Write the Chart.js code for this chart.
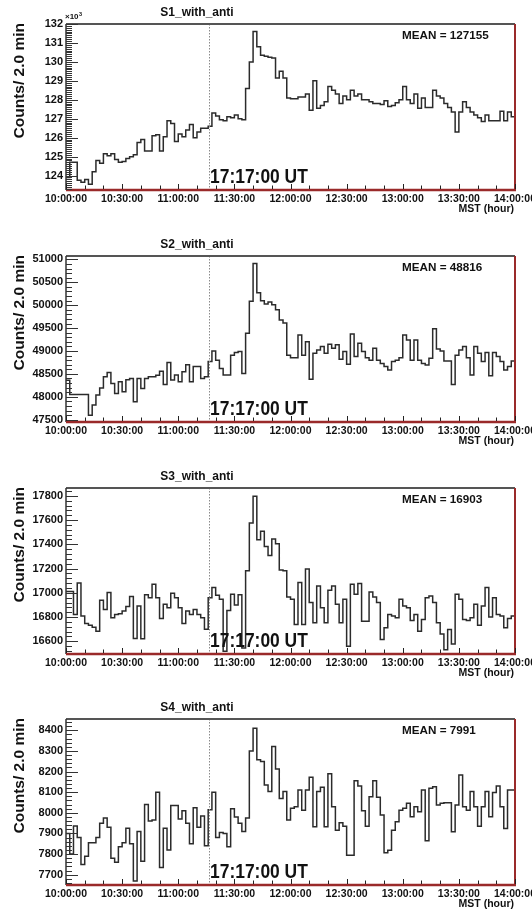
<!DOCTYPE html>
<html>
<head>
<meta charset="utf-8">
<script src="https://cdn.jsdelivr.net/npm/chart.js@4.4.1/dist/chart.umd.min.js"></script>
<style>
html,body{margin:0;padding:0;background:#fff;overflow:hidden;width:532px;height:911px;}
.p{position:absolute;left:0;width:532px;height:231px;}
</style>
</head>
<body>
<div class="p" style="top:0px"><canvas id="c0" width="532" height="231"></canvas></div>
<div class="p" style="top:232px"><canvas id="c1" width="532" height="231"></canvas></div>
<div class="p" style="top:464px"><canvas id="c2" width="532" height="231"></canvas></div>
<div class="p" style="top:695px"><canvas id="c3" width="532" height="231"></canvas></div>
<script>
// ---------- data ----------
const binWidthMin = 2;           // 2-minute bins, minutes after 10:00 MST
const nBins = 120;
const binStarts = [];
for (let i = 0; i < nBins; i++) binStarts.push(i * binWidthMin);

const xTickLabels = ['10:00:00','10:30:00','11:00:00','11:30:00','12:00:00','12:30:00','13:00:00','13:30:00','14:00:00'];
const xAxisTitle = 'MST (hour)';
const yAxisTitle = 'Counts/ 2.0 min';
const eventLabel = '17:17:00 UT';
const eventMinute = 76.5;

const panelTitles = ['S1_with_anti','S2_with_anti','S3_with_anti','S4_with_anti'];
const meanLabels = ['MEAN = 127155','MEAN = 48816','MEAN = 16903','MEAN = 7991'];

const s1Counts = [
123900,124700,124700,123750,123650,123800,123550,124200,124800,124650,
125150,125050,125150,124850,124700,124750,124900,125000,125100,125750,
125900,125300,125300,126100,126150,125300,126050,126900,126750,125800,
126200,126050,126400,126700,126000,126300,126500,126500,126600,127300,
127150,126950,126900,127100,127050,127200,127000,126950,128600,130000,
131600,130800,130350,130300,130250,130200,129150,129500,129150,128100,
128050,128050,128150,128150,128300,127450,129000,127550,127700,127900,
128700,128500,128300,127800,128200,128000,128500,128200,128300,128000,
128000,127900,127800,127800,127750,127950,127650,127700,127850,128000,
128700,128000,127800,128300,127550,128100,127600,127600,128500,128200,
128100,127800,127600,127350,126300,127350,127900,127600,127350,127200,
127050,126850,127200,126900,126900,126900,127400,126900,127350,127100
];
const s2Counts = [
48360,48050,48050,48050,48050,48050,47600,47820,48040,48190,
48440,48530,48290,48070,48330,48110,48370,48400,47890,48400,
48180,48400,48440,48440,48470,48560,48270,48750,48365,48475,
48330,48550,48700,48330,48660,48660,48400,48440,48770,49000,
48800,48620,48475,48475,48910,48970,48990,48510,49390,50085,
50910,50270,50100,50025,50070,50010,49900,49680,49610,48910,
48855,48855,49350,48910,49205,48385,48950,49020,49100,48950,
49150,49060,49135,48820,48990,48710,49370,48880,49170,48990,
48855,48800,49060,48800,48730,48660,48585,48770,48800,48855,
49350,49240,48800,49240,48800,48730,48695,48840,49485,49045,
49000,48780,48780,48270,48910,49020,49100,48855,48475,49100,
48950,48770,48970,48460,48970,48880,48770,48585,48660,48780
];
const s3Counts = [
17010,17010,16820,17080,16808,16747,16733,16716,16683,16938,
16863,17002,16794,16822,16827,16850,16886,16969,16622,16891,
16620,16983,16960,17071,16960,16789,16905,16877,16997,16960,
16877,16747,16850,16822,16863,16822,16794,16700,16960,17043,
16980,16947,16517,16855,16988,16900,16983,16545,17182,17576,
17797,17437,17509,17382,17307,17445,17404,17188,17182,16966,
16947,16739,17085,16739,17196,16919,16753,17057,16877,16753,
17021,17057,16905,16753,16947,16559,17071,16988,17077,16766,
16766,17007,16966,16919,16614,16711,16822,16808,16794,16947,
16891,16877,16772,16822,16683,16780,16960,16974,16919,16753,
16661,16531,16697,16578,16988,16947,16780,16772,16794,16905,
16733,16891,17043,16800,16960,16822,16808,16711,16789,16808
];
const s4Counts = [
7900,7800,7936,7880,7750,7790,7855,7855,7880,7950,
7975,7930,7780,7760,7835,7855,7925,7850,7670,7910,
7765,8040,7960,7965,8100,7735,7925,7820,8035,8035,
7970,8010,7950,7850,8025,7930,7985,7840,8015,8100,
7880,7905,7900,7835,8020,7980,7950,7910,7975,8300,
8410,8257,8249,8135,8103,8322,8212,8070,8103,7965,
8022,8030,8111,8013,8111,8173,7932,8103,8124,7932,
8189,8030,7916,7952,7935,7794,7794,8156,8130,8010,
7935,8078,8156,8075,7989,7806,7819,7916,7957,8013,
8022,8046,7981,8030,8005,8111,7864,8119,8127,8038,
8046,8049,8049,7908,8038,8184,8030,8013,8103,8030,
7935,8030,8103,7981,8098,8130,8030,7924,8111,8111
];
const seriesCounts = [s1Counts, s2Counts, s3Counts, s4Counts];

const yMins = [123240, 47450, 16495, 7650];
const yMaxs = [132000, 51075, 17865, 8455];
const ySteps = [1000, 500, 200, 100];
const yMinorDivs = [10, 5, 5, 5];
const yLabelDivisors = [1000, 1, 1, 1];

// ---------- drawing ----------
const FAM = '"Liberation Sans", Arial, Helvetica, sans-serif';
const RED = '#9a2a2a';

function txt(ctx, s, x, y, font, align, base, sx) {
  ctx.save();
  ctx.font = font; ctx.textAlign = align; ctx.textBaseline = base;
  ctx.fillStyle = '#111';
  ctx.translate(x, y); ctx.scale(sx || 1, 1);
  ctx.fillText(s, 0, 0);
  ctx.restore();
}

function decorPlugin(idx) {
  return {
    id: 'decor' + idx,
    afterDraw(chart) {
      const ctx = chart.ctx, a = chart.chartArea;
      const xs = chart.scales.x, ys = chart.scales.y;
      ctx.save();
      // event marker
      const ex = Math.round(xs.getPixelForValue(eventMinute)) + 0.5;
      ctx.strokeStyle = '#8a8a8a'; ctx.lineWidth = 1; ctx.setLineDash([1.5, 1.5]);
      ctx.beginPath(); ctx.moveTo(ex, a.top); ctx.lineTo(ex, a.bottom); ctx.stroke();
      ctx.setLineDash([]);
      // frame
      ctx.lineWidth = 2; ctx.strokeStyle = '#555';
      ctx.beginPath(); ctx.moveTo(a.left, a.top); ctx.lineTo(a.right, a.top); ctx.stroke();
      ctx.lineWidth = 1.5; ctx.strokeStyle = '#333';
      ctx.beginPath(); ctx.moveTo(a.left, a.top); ctx.lineTo(a.left, a.bottom); ctx.stroke();
      ctx.strokeStyle = RED; ctx.lineWidth = 2;
      ctx.beginPath(); ctx.moveTo(a.right, a.top); ctx.lineTo(a.right, a.bottom); ctx.stroke();
      ctx.lineWidth = 2.5;
      ctx.beginPath(); ctx.moveTo(a.left, a.bottom); ctx.lineTo(a.right + 1, a.bottom); ctx.stroke();
      // y ticks (inside)
      ctx.strokeStyle = '#333'; ctx.lineWidth = 1;
      const step = ySteps[idx], minor = step / yMinorDivs[idx];
      const lo = yMins[idx], hi = yMaxs[idx];
      for (let k = Math.ceil(lo / minor); k * minor <= hi; k++) {
        const v = k * minor;
        const isMajor = Math.abs(v / step - Math.round(v / step)) < 1e-6;
        const py = Math.round(ys.getPixelForValue(v)) + 0.5;
        ctx.beginPath(); ctx.moveTo(a.left, py); ctx.lineTo(a.left + (isMajor ? 12 : 6), py); ctx.stroke();
      }
      // x ticks (inside, every 10 min)
      ctx.strokeStyle = '#222';
      for (let m = 0; m <= 240; m += 10) {
        const px = Math.round(xs.getPixelForValue(m)) + 0.5;
        const len = (m % 30 === 0) ? 5 : 3.5;
        ctx.beginPath(); ctx.moveTo(px, a.bottom - 1); ctx.lineTo(px, a.bottom - 1 - len); ctx.stroke();
      }
      ctx.restore();
      // texts
      txt(ctx, panelTitles[idx], 197, a.top - 11, 'bold 12px ' + FAM, 'center', 'middle');
      txt(ctx, meanLabels[idx], 402, a.top + 12, 'bold 11.7px ' + FAM, 'left', 'middle');
      txt(ctx, eventLabel, ex + 0.5, a.bottom - 7, 'bold 21px ' + FAM, 'left', 'alphabetic', 0.83);
      txt(ctx, xAxisTitle, 514, a.bottom + 19.5, 'bold 10.5px ' + FAM, 'right', 'middle');
      // rotated y title
      ctx.save();
      ctx.translate(20, a.top - 1);
      ctx.rotate(-Math.PI / 2);
      ctx.font = 'bold 15.5px ' + FAM; ctx.fillStyle = '#111';
      ctx.textAlign = 'right'; ctx.textBaseline = 'middle';
      ctx.fillText(yAxisTitle, 0, 0);
      ctx.restore();
      if (yLabelDivisors[idx] !== 1) {
        txt(ctx, '\u00d710', a.left - 1, a.top - 5, 'bold 8px ' + FAM, 'left', 'alphabetic');
        ctx.save(); ctx.font = 'bold 8px ' + FAM;
        const w = ctx.measureText('\u00d710').width; ctx.restore();
        txt(ctx, '3', a.left - 1 + w + 0.5, a.top - 8, 'bold 5.5px ' + FAM, 'left', 'alphabetic');
      }
    }
  };
}

function makeChart(idx) {
  const counts = seriesCounts[idx];
  const pts = binStarts.map((t, i) => ({ x: t, y: counts[i] }));
  pts.push({ x: nBins * binWidthMin, y: counts[counts.length - 1] });
  const div = yLabelDivisors[idx];
  const step = ySteps[idx];
  new Chart(document.getElementById('c' + idx), {
    type: 'line',
    data: { datasets: [{ data: pts, stepped: true, borderColor: '#2b2b2b', borderWidth: 1.5, pointRadius: 0, fill: false }] },
    options: {
      responsive: false, animation: false, devicePixelRatio: 1,
      layout: { padding: { left: 0, right: 17, top: 24, bottom: 0 } },
      plugins: { legend: { display: false }, tooltip: { enabled: false }, title: { display: false } },
      scales: {
        x: {
          type: 'linear', min: 0, max: 240,
          grid: { display: false, drawTicks: false, tickLength: 0 }, border: { display: false },
          ticks: { stepSize: 30, autoSkip: false, maxRotation: 0, padding: 3, color: '#111',
                   font: { family: FAM, size: 10.5, weight: 'bold' },
                   callback: v => xTickLabels[Math.round(v / 30)] },
          afterFit: s => { s.height = 41; s.paddingLeft = 0; s.paddingRight = 0; }
        },
        y: {
          min: yMins[idx], max: yMaxs[idx],
          grid: { display: false, drawTicks: false, tickLength: 0 }, border: { display: false },
          ticks: { stepSize: step, padding: 3, color: '#111',
                   font: { family: FAM, size: 11, weight: 'bold' },
                   callback: v => String(Math.round(v / div)) },
          afterBuildTicks: s => {
            const t = [];
            for (let k = Math.ceil(yMins[idx] / step); k * step <= yMaxs[idx]; k++) t.push({ value: k * step });
            s.ticks = t;
          },
          afterFit: s => { s.width = 66; s.paddingTop = 0; s.paddingBottom = 0; }
        }
      }
    },
    plugins: [decorPlugin(idx)]
  });
}
for (let i = 0; i < 4; i++) makeChart(i);
</script>
</body>
</html>
